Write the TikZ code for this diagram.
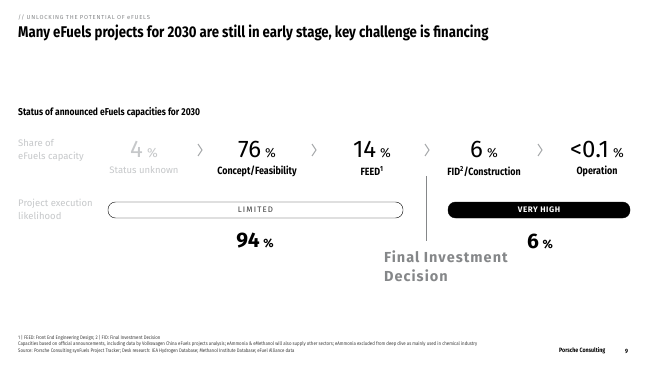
\documentclass[tikz,border=0pt]{standalone}
\usepackage{fontspec}
\setmainfont{Fira Sans}
\newfontfamily\narrowfont{Fira Sans}[FakeStretch=0.85]
\newfontfamily\spacedfont{Fira Sans}[LetterSpace=14]
\newfontfamily\widefont{Fira Sans}[LetterSpace=7]
\usetikzlibrary{positioning}
\definecolor{pale}{HTML}{C6C8CA}
\definecolor{midgray}{HTML}{858789}
\definecolor{chevgray}{HTML}{A9ABAD}
\definecolor{inkgray}{HTML}{3C3C3C}
\newcommand{\pcnt}[1]{#1\,{\fontsize{13}{13}\selectfont\%}}
\newcommand{\pcntb}[1]{#1\,{\fontsize{12}{12}\selectfont\%}}

\begin{document}
\begin{tikzpicture}[x=1pt, y=-1pt,
    lbl/.style={anchor=north west, text=pale, align=left, inner sep=0pt,
      font=\fontsize{9.5}{13.5}\selectfont},
    pct/.style={inner sep=0pt, font=\fontsize{24}{24}\selectfont},
    stage/.style={inner sep=0pt, font=\narrowfont\bfseries\fontsize{10.5}{11}\selectfont},
    chevron/.style={draw=chevgray, line width=1pt},
    bar/.style={draw, rounded corners=7.5pt, minimum height=16pt, inner sep=0pt},
    big/.style={inner sep=0pt, font=\bfseries\fontsize{21}{21}\selectfont},
    note/.style={anchor=west, inner sep=0pt, text=inkgray,
      font=\narrowfont\fontsize{5.1}{5.5}\selectfont}]
  \useasboundingbox[fill=white] (0,0) rectangle (650,366);

  % header
  \node[anchor=west, inner sep=0pt, text=midgray, font=\spacedfont\fontsize{5.8}{6}\selectfont]
    (kicker) at (18,17) {// UNLOCKING THE POTENTIAL OF eFUELS};
  \node[anchor=west, inner sep=0pt, font=\narrowfont\bfseries\fontsize{15.5}{16}\selectfont]
    (title) at (18,33) {Many eFuels projects for 2030 are still in early stage, key challenge is financing};
  \node[anchor=west, inner sep=0pt, font=\narrowfont\bfseries\fontsize{10}{11}\selectfont]
    (sub) at (18,113) {Status of announced eFuels capacities for 2030};

  % share of capacity per stage
  \node[lbl] (share) at (18,139) {Share of\\eFuels capacity};
  \node[pct, text=pale] (unk) at (144,150) {\pcnt{4}};
  \node[pct] (concept) at (257,150) {\pcnt{76}};
  \node[pct] (feed) at (372,150) {\pcnt{14}};
  \node[pct] (fid) at (484,150) {\pcnt{6}};
  \node[pct] (oper) at (597,150) {\pcnt{<0.1}};
  \node[inner sep=0pt, text=pale, font=\fontsize{9.5}{10}\selectfont, below=8pt of unk] (unklbl) {Status unknown};
  \node[stage, below=7.5pt of concept] (conceptlbl) {Concept/Feasibility};
  \node[stage, below=7.5pt of feed] (feedlbl) {FEED\textsuperscript{1}};
  \node[stage, below=7.5pt of fid] (fidlbl) {FID\textsuperscript{2}/Construction};
  \node[stage, below=7.5pt of oper] (operlbl) {Operation};
  \foreach \cx in {200,314,427,540}
    \draw[chevron] (\cx-2,144) -- (\cx+2,150) -- (\cx-2,156);

  % execution likelihood
  \node[lbl] (exec) at (18,198.5) {Project execution\\likelihood};
  \node[bar, minimum width=295pt, text=inkgray, font=\spacedfont\fontsize{8}{8}\selectfont]
    (limited) at (255.5,210) {LIMITED};
  \node[bar, fill=black, minimum width=182pt, text=white, font=\widefont\bfseries\fontsize{8}{8}\selectfont]
    (veryhigh) at (539,210) {VERY HIGH};
  \node[big] (low) at (255,241) {\pcntb{94}};
  \node[big] (high) at (540,241) {\pcntb{6}};

  % FID divider
  \coordinate (fidtop) at (426,176);
  \coordinate (fidbot) at (426,241);
  \draw[midgray, line width=1pt] (fidtop) -- (fidbot);
  \node[anchor=north west, inner sep=0pt, align=left, text=midgray,
        font=\widefont\bfseries\fontsize{14.5}{19}\selectfont] (fidtxt) at (384,251)
    {Final Investment\\Decision};

  % footer
  \node[note] (fn1) at (18,338) {1 | FEED: Front End Engineering Design; 2 | FID: Final Investment Decision};
  \node[note] (fn2) at (18,344.5) {Capacities based on official announcements, including data by Volkswagen China eFuels projects analysis; eAmmonia \& eMethanol will also supply other sectors; eAmmonia excluded from deep dive as mainly used in chemical industry};
  \node[note] (fn3) at (18,351) {Source: Porsche Consulting synFuels Project Tracker; Desk research: IEA Hydrogen Database; Methanol Institute Database; eFuel Alliance data};
  \node[anchor=west, inner sep=0pt, font=\narrowfont\bfseries\fontsize{6.2}{7}\selectfont] (brand) at (559,351) {Porsche Consulting};
  \node[anchor=west, inner sep=0pt, font=\narrowfont\bfseries\fontsize{6.2}{7}\selectfont] (page) at (625,351) {9};
\end{tikzpicture}
\end{document}
